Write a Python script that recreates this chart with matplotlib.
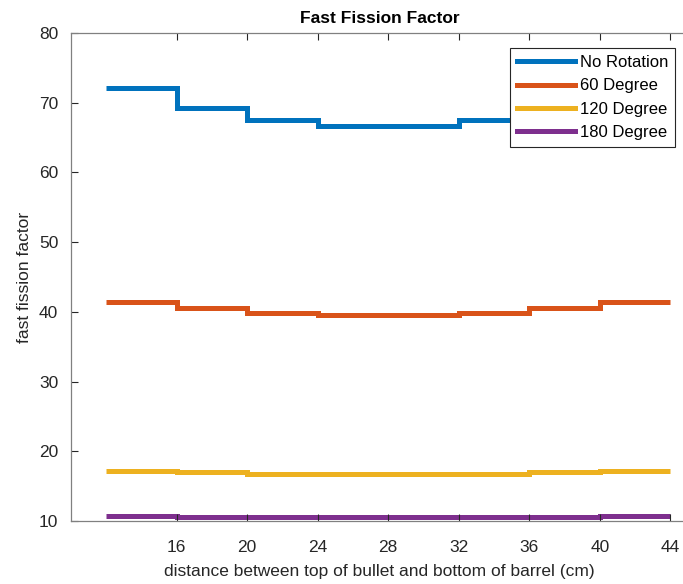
import matplotlib.pyplot as plt

plt.rcParams['font.family'] = ['Liberation Sans', 'DejaVu Sans']

# step edges (cm) and fast fission factor per interval
edges = [12, 16, 20, 24, 28, 32, 36, 40, 44]
no_rotation = [72.1, 69.3, 67.5, 66.6, 66.6, 67.5, 69.3, 72.1]
deg60 = [41.4, 40.5, 39.8, 39.5, 39.5, 39.8, 40.5, 41.4]
deg120 = [17.1, 16.95, 16.8, 16.8, 16.8, 16.8, 16.95, 17.1]
deg180 = [10.7, 10.55, 10.55, 10.55, 10.55, 10.55, 10.55, 10.7]

labels = ['No Rotation', '60 Degree', '120 Degree', '180 Degree']
colors = ['#0072BD', '#D95319', '#EDB120', '#7E2F8E']

fig = plt.figure(figsize=(6.83, 5.84), dpi=100)
ax = fig.add_axes([0.1035, 0.108, 0.904, 0.8355])

for vals, lab, c in zip([no_rotation, deg60, deg120, deg180], labels, colors):
    ax.stairs(vals, edges, color=c, linewidth=3.6, label=lab, baseline=None)

ax.set_xlim(10, 45)
ax.set_ylim(10, 80)
ax.set_xticks([16, 20, 24, 28, 32, 36, 40, 44])
ax.set_yticks(range(10, 81, 10))
ax.tick_params(direction='in', top=True, right=False, labelsize=12.5,
               colors='#262626', length=5, width=0.8)
ax.tick_params(axis='x', pad=14)
ax.tick_params(axis='y', pad=9)
ax.spines['right'].set_visible(False)
for s in ax.spines.values():
    s.set_color('#808080')
    s.set_linewidth(0.9)

ax.set_title('Fast Fission Factor', fontsize=12.5, fontweight='bold', color='black', pad=7)
ax.set_xlabel('distance between top of bullet and bottom of barrel (cm)', fontsize=12.5,
              color='#262626', labelpad=6)
ax.set_ylabel('fast fission factor', fontsize=12.5, color='#262626', labelpad=5)

leg = ax.legend(loc='upper right', bbox_to_anchor=(0.979, 0.969), borderaxespad=0,
                fontsize=12, handlelength=3.45, handletextpad=0.3, labelspacing=0.5,
                borderpad=0.42, fancybox=False, framealpha=1)
leg.get_frame().set_edgecolor('#262626')
leg.get_frame().set_linewidth(0.8)

fig.savefig('out.png', dpi=100)
